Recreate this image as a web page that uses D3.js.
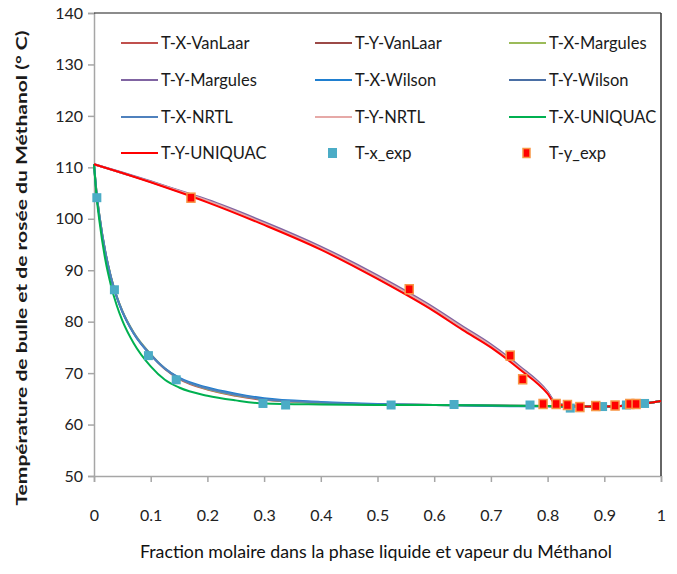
<!DOCTYPE html>
<html lang="fr">
  <head>
    <meta charset="UTF-8" />
    <title>Diagramme T-x-y Méthanol</title>
    <script src="https://cdn.jsdelivr.net/npm/d3@7"></script>
    <style>
      html,
      body {
        margin: 0;
        padding: 0;
        background: #fff;
      }
      svg {
        display: block;
        font-family: Lato, 'Open Sans', sans-serif;
      }
    </style>
  </head>
  <body>
    <svg width="677" height="574"></svg>
    <script>
      // grilles de composition
      const xLiq = [0, 0.005, 0.01, 0.02, 0.03, 0.04, 0.05, 0.07, 0.1, 0.125, 0.15, 0.2, 0.25, 0.3, 0.4, 0.5, 0.6, 0.7, 0.8, 0.85, 0.88, 0.9, 0.95, 1];
      const yVap = [0, 0.05, 0.1, 0.15, 0.2, 0.3, 0.4, 0.5, 0.6, 0.65, 0.7, 0.75, 0.8, 0.815, 0.85, 0.88, 0.9, 0.95, 1];

      // courbes de bulle (T-X)
      const txVanLaar  = [110.6, 104.5, 100.2, 93.5, 88.6, 84.9, 82.0, 77.8, 73.6, 70.8, 68.9, 66.8, 65.6, 64.8, 64.2, 63.9, 63.8, 63.7, 63.6, 63.5, 63.5, 63.5, 63.8, 64.6];
      const txMargules = [110.6, 104.6, 100.3, 93.6, 88.7, 85.0, 82.1, 77.9, 73.7, 70.9, 69.0, 66.9, 65.7, 64.9, 64.2, 63.9, 63.8, 63.7, 63.6, 63.5, 63.5, 63.5, 63.8, 64.6];
      const txWilson   = [110.6, 104.4, 100.1, 93.4, 88.5, 84.8, 81.9, 77.7, 73.5, 70.9, 69.1, 67.2, 66.0, 65.1, 64.4, 64.0, 63.8, 63.6, 63.5, 63.4, 63.4, 63.5, 63.8, 64.6];
      const txNRTL     = [110.6, 104.5, 100.2, 93.5, 88.6, 84.9, 82.0, 77.8, 73.6, 70.9, 69.0, 67.0, 65.8, 64.9, 64.3, 63.9, 63.8, 63.7, 63.6, 63.5, 63.5, 63.5, 63.8, 64.6];
      const txUNIQUAC  = [110.6, 103.8, 99.2, 92.0, 87.0, 83.2, 80.2, 75.8, 71.3, 68.7, 67.2, 65.6, 64.7, 64.1, 63.9, 63.8, 63.8, 63.7, 63.6, 63.5, 63.5, 63.5, 63.8, 64.6];

      // courbes de rosée (T-Y)
      const tyVanLaar  = [110.6, 108.9, 107.2, 105.4, 103.5, 99.2, 94.4, 88.8, 82.5, 78.9, 75.4, 71.2, 66.3, 64.1, 63.6, 63.5, 63.5, 63.8, 64.6];
      const tyMargules = [110.6, 109.0, 107.3, 105.5, 103.7, 99.4, 94.6, 89.0, 82.7, 79.1, 75.6, 71.4, 66.4, 64.1, 63.6, 63.5, 63.5, 63.8, 64.6];
      const tyWilson   = [110.6, 108.9, 107.2, 105.3, 103.4, 99.0, 94.2, 88.6, 82.3, 78.7, 75.2, 71.0, 66.2, 64.0, 63.5, 63.4, 63.4, 63.8, 64.6];
      const tyNRTL     = [110.6, 108.9, 107.2, 105.4, 103.5, 99.1, 94.3, 88.7, 82.4, 78.8, 75.3, 71.1, 66.2, 64.0, 63.6, 63.5, 63.5, 63.8, 64.6];
      const tyUNIQUAC  = [110.6, 108.9, 107.1, 105.2, 103.2, 98.8, 94.0, 88.3, 82.0, 78.4, 75.0, 70.8, 66.0, 63.9, 63.6, 63.5, 63.5, 63.8, 64.6];

      // points expérimentaux
      const xExp  = [0.005, 0.036, 0.096, 0.145, 0.298, 0.338, 0.524, 0.635, 0.769, 0.84, 0.897, 0.939, 0.971];
      const txExp = [104.1, 86.2, 73.4, 68.7, 64.1, 63.8, 63.8, 63.9, 63.8, 63.2, 63.5, 63.8, 64.1];
      const yExp  = [0.171, 0.556, 0.734, 0.756, 0.792, 0.815, 0.835, 0.857, 0.885, 0.919, 0.945, 0.956];
      const tyExp = [104.1, 86.3, 73.4, 68.8, 64.0, 64.0, 63.8, 63.4, 63.6, 63.7, 64.0, 64.0];

      const xTicks = [0, 0.1, 0.2, 0.3, 0.4, 0.5, 0.6, 0.7, 0.8, 0.9, 1];
      const yTicks = [50, 60, 70, 80, 90, 100, 110, 120, 130, 140];

      const series = [
        { name: 'T-X-VanLaar', xs: xLiq, ts: txVanLaar, color: '#C0504D' },
        { name: 'T-Y-VanLaar', xs: yVap, ts: tyVanLaar, color: '#9C4A47' },
        { name: 'T-X-Margules', xs: xLiq, ts: txMargules, color: '#9BBB59' },
        { name: 'T-Y-Margules', xs: yVap, ts: tyMargules, color: '#8064A2' },
        { name: 'T-X-Wilson', xs: xLiq, ts: txWilson, color: '#1F7FD0' },
        { name: 'T-Y-Wilson', xs: yVap, ts: tyWilson, color: '#4A6FA5' },
        { name: 'T-X-NRTL', xs: xLiq, ts: txNRTL, color: '#4F81BD' },
        { name: 'T-Y-NRTL', xs: yVap, ts: tyNRTL, color: '#E6A9A7' },
        { name: 'T-X-UNIQUAC', xs: xLiq, ts: txUNIQUAC, color: '#00B050' },
        { name: 'T-Y-UNIQUAC', xs: yVap, ts: tyUNIQUAC, color: '#FF0000' }
      ];

      const svg = d3.select('svg');
      const plotLeft = 94, plotRight = 661, plotTop = 13, plotBottom = 476;

      const x = d3.scaleLinear().domain([0, 1]).range([plotLeft, plotRight]);
      const y = d3.scaleLinear().domain([50, 140]).range([plotBottom, plotTop]);

      // axes
      const xAxis = svg
        .append('g')
        .attr('transform', `translate(0,${plotBottom})`)
        .call(d3.axisBottom(x).tickValues(xTicks).tickSize(6).tickPadding(28).tickFormat(d3.format('')));
      const yAxis = svg
        .append('g')
        .attr('transform', `translate(${plotLeft},0)`)
        .call(d3.axisLeft(y).tickValues(yTicks).tickSize(6).tickPadding(5));

      [xAxis, yAxis].forEach(function(g) {
        g.select('.domain').attr('stroke', '#a6a6a6').attr('stroke-width', 1.5);
        g.selectAll('.tick line').attr('stroke', '#a6a6a6').attr('stroke-width', 1.5);
        g.selectAll('.tick text')
          .attr('fill', '#222')
          .style('font-size', '16px')
          .style('font-family', 'Lato, sans-serif');
      });

      // cadre haut et droit
      svg.append('line')
        .attr('x1', plotLeft).attr('x2', plotRight).attr('y1', plotTop).attr('y2', plotTop)
        .attr('stroke', '#1a1a1a').attr('stroke-width', 1.2);
      svg.append('line')
        .attr('x1', plotRight).attr('x2', plotRight).attr('y1', plotTop).attr('y2', plotBottom)
        .attr('stroke', '#333').attr('stroke-width', 1.5);

      // courbes des modèles
      const line = d3
        .line()
        .x(function(d) { return x(d[0]); })
        .y(function(d) { return y(d[1]); })
        .curve(d3.curveMonotoneX);

      svg
        .selectAll('path.model')
        .data(series)
        .enter()
        .append('path')
        .attr('class', 'model')
        .attr('fill', 'none')
        .attr('stroke', function(s) { return s.color; })
        .attr('stroke-width', 2)
        .attr('d', function(s) {
          return line(s.xs.map(function(v, i) { return [v, s.ts[i]]; }));
        });

      // points expérimentaux
      svg
        .selectAll('rect.xexp')
        .data(xExp)
        .enter()
        .append('rect')
        .attr('class', 'xexp')
        .attr('x', function(d) { return x(d) - 4.5; })
        .attr('y', function(d, i) { return y(txExp[i]) - 4.5; })
        .attr('width', 9)
        .attr('height', 9)
        .attr('fill', '#4BACC6');

      svg
        .selectAll('rect.yexp')
        .data(yExp)
        .enter()
        .append('rect')
        .attr('class', 'yexp')
        .attr('x', function(d) { return x(d) - 4; })
        .attr('y', function(d, i) { return y(tyExp[i]) - 4.5; })
        .attr('width', 8)
        .attr('height', 9)
        .attr('fill', '#FF0000')
        .attr('stroke', '#F79646')
        .attr('stroke-width', 1.5);

      // légende
      const legendItems = series.map(function(s) { return { name: s.name, color: s.color, type: 'line' }; });
      legendItems.push({ name: 'T-x_exp', color: '#4BACC6', type: 'xexp' });
      legendItems.push({ name: 'T-y_exp', color: '#FF0000', type: 'yexp' });

      const colX = [121, 315, 509];
      const rowY = [43, 80, 117, 153];

      const legend = svg
        .selectAll('g.legend')
        .data(legendItems)
        .enter()
        .append('g')
        .attr('class', 'legend')
        .attr('transform', function(d, i) {
          return `translate(${colX[i % 3]},${rowY[Math.floor(i / 3)]})`;
        });

      legend.each(function(d) {
        const g = d3.select(this);
        if (d.type === 'line') {
          g.append('line')
            .attr('x1', 0).attr('x2', 37).attr('y1', 0).attr('y2', 0)
            .attr('stroke', d.color).attr('stroke-width', 2);
        } else if (d.type === 'xexp') {
          g.append('rect')
            .attr('x', 13).attr('y', -5).attr('width', 9).attr('height', 10)
            .attr('fill', d.color);
        } else {
          g.append('rect')
            .attr('x', 14).attr('y', -4.5).attr('width', 7).attr('height', 9)
            .attr('fill', d.color).attr('stroke', '#F79646').attr('stroke-width', 1.5);
        }
        g.append('text')
          .attr('x', 40)
          .attr('dy', '0.35em')
          .attr('fill', '#1a1a1a')
          .style('font-size', '16.5px')
          .text(d.name);
      });

      // titres des axes
      svg.append('text')
        .attr('x', 376)
        .attr('y', 558)
        .attr('text-anchor', 'middle')
        .attr('fill', '#111')
        .style('font-size', '17px')
        .attr('textLength', 472)
        .attr('lengthAdjust', 'spacingAndGlyphs')
        .text('Fraction molaire dans la phase liquide et vapeur du Méthanol');

      svg.append('text')
        .attr('transform', 'translate(27,268) rotate(-90)')
        .attr('text-anchor', 'middle')
        .attr('fill', '#1a1a1a')
        .style('font-size', '15.5px')
        .style('font-weight', 'bold')
        .attr('textLength', 475)
        .attr('lengthAdjust', 'spacingAndGlyphs')
        .text('Température de bulle et de rosée du Méthanol (° C)');
    </script>
  </body>
</html>
